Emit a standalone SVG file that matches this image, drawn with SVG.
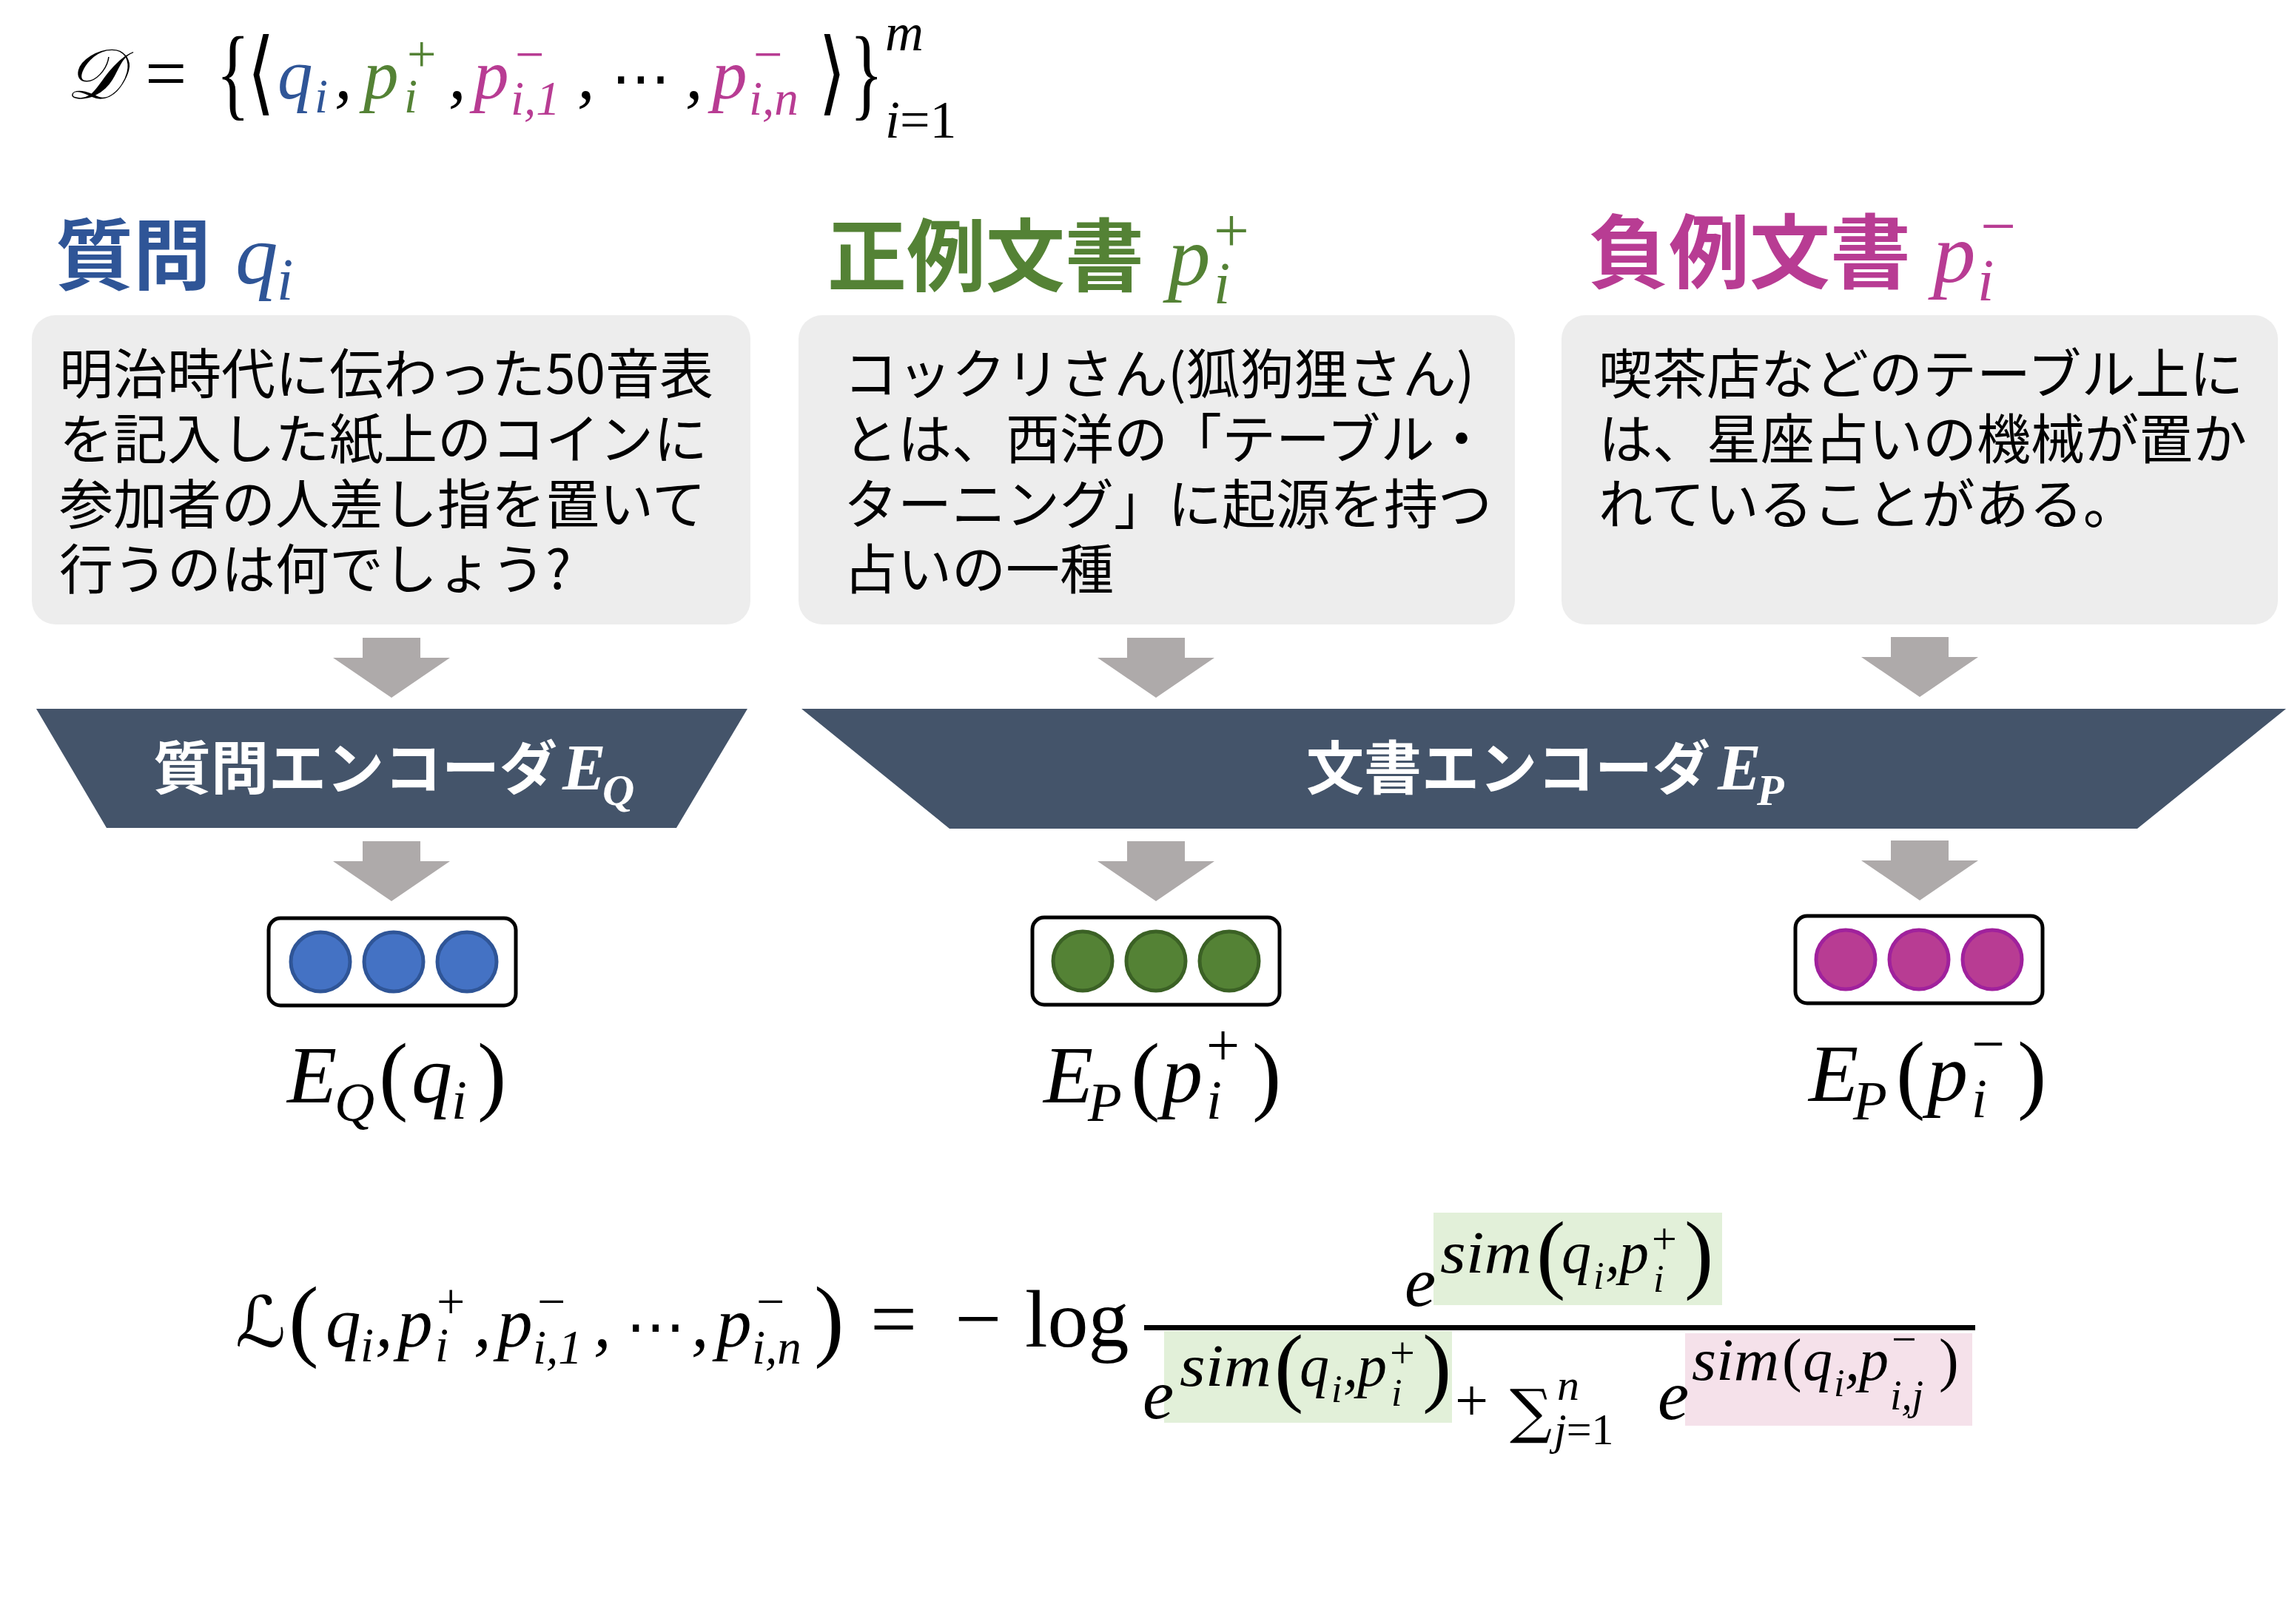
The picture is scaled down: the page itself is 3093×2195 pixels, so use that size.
<svg xmlns="http://www.w3.org/2000/svg" width="3093" height="2195" viewBox="0 0 3093 2195">
<style>
.m{font-family:"Liberation Serif","DejaVu Serif",serif;font-style:italic}
.u{font-family:"Liberation Serif","DejaVu Serif",serif;font-style:normal}
.sym{font-family:"DejaVu Serif","DejaVu Sans",serif}
.hd{font-family:"Noto Sans CJK JP",sans-serif;font-weight:700}
.body{font-family:"Noto Sans CJK JP",sans-serif;font-size:73px;fill:#000}
.box{fill:#EDEDED}
.enc{fill:#44546A}
.arrow{fill:#AEAAAA}
.vec{fill:#fff;stroke:#000;stroke-width:5}
.cb{fill:#4472C4;stroke:#2F5597;stroke-width:5}
.cg{fill:#548235;stroke:#3B6125;stroke-width:5}
.cm{fill:#B83C93;stroke:#A0219C;stroke-width:5}
.blue{fill:#2F5597}.green{fill:#548235}.mag{fill:#B83C93}
.wt{fill:#fff}
</style>
<defs>
<path id="arr" d="M-39,0 H39 V27 H79 L0,81 L-79,27 H-39 Z"/>
</defs>
<rect width="3093" height="2195" fill="#fff"/>

<g id="dataset-formula">
<text x="89" y="133" font-size="95" class="sym" font-style="italic">𝒟</text>
<text x="196" y="133" font-size="100" class="u">=</text>
<text transform="translate(292,145) scale(1,1.45)" font-size="95" class="u">{</text>
<text transform="translate(334,140) scale(1,1.3)" font-size="95" class="sym">⟨</text>
<text class="m" font-size="95"><tspan x="375" y="133" class="blue">q</tspan><tspan x="425" y="152" font-size="65" class="blue">i</tspan><tspan x="452" y="133">,</tspan><tspan x="491" y="133" class="green">p</tspan><tspan x="546" y="152" font-size="65" class="green">i</tspan><tspan x="550" y="97" font-size="70" class="u green">+</tspan><tspan x="606" y="133">,</tspan><tspan x="640" y="133" class="mag">p</tspan><tspan x="690" y="155" font-size="65" class="mag">i,1</tspan><tspan x="696" y="97" font-size="70" class="u mag">−</tspan><tspan x="780" y="133">,</tspan><tspan x="826" y="133" font-size="80" class="sym" font-style="normal">⋯</tspan><tspan x="926" y="133">,</tspan><tspan x="962" y="133" class="mag">p</tspan><tspan x="1012" y="155" font-size="65" class="mag">i,n</tspan><tspan x="1018" y="97" font-size="70" class="u mag">−</tspan></text>
<text transform="translate(1106,140) scale(1,1.3)" font-size="95" class="sym">⟩</text>
<text transform="translate(1148,145) scale(1,1.45)" font-size="95" class="u">}</text>
<text class="m" font-size="72"><tspan x="1196" y="68">m</tspan><tspan x="1196" y="186">i</tspan><tspan class="u">=1</tspan></text>
</g>

<g id="question-header">
<text x="75" y="383" font-size="105" class="hd blue">質問</text>
<text class="m blue" font-size="115"><tspan x="318" y="383">q</tspan><tspan x="374" y="405" font-size="80">i</tspan></text>
</g>
<g id="positive-header">
<text x="1118" y="385" font-size="107" class="hd green">正例文書</text>
<text class="m green" font-size="115"><tspan x="1578" y="385">p</tspan><tspan x="1640" y="410" font-size="80">i</tspan><tspan x="1640" y="340" font-size="85" class="u">+</tspan></text>
</g>
<g id="negative-header">
<text x="2146" y="381" font-size="109" class="hd mag">負例文書</text>
<text class="m mag" font-size="115"><tspan x="2612" y="381">p</tspan><tspan x="2672" y="406" font-size="80">i</tspan><tspan x="2676" y="334" font-size="85" class="u">−</tspan></text>
</g>

<g id="question-box">
<rect class="box" x="43" y="426" width="971" height="418" rx="32"/>
<text class="body"><tspan x="80" y="532">明治時代に伝わった50音表</tspan><tspan x="80" y="620">を記入した紙上のコインに</tspan><tspan x="80" y="708">参加者の人差し指を置いて</tspan><tspan x="80" y="796">行うのは何でしょう?</tspan></text>
</g>
<g id="positive-box">
<rect class="box" x="1079" y="426" width="968" height="418" rx="32"/>
<text class="body"><tspan x="1140" y="532">コックリさん(狐狗狸さん)</tspan><tspan x="1140" y="620">とは、西洋の「テーブル・</tspan><tspan x="1140" y="708">ターニング」に起源を持つ</tspan><tspan x="1140" y="796">占いの一種</tspan></text>
</g>
<g id="negative-box">
<rect class="box" x="2110" y="426" width="968" height="418" rx="32"/>
<text class="body"><tspan x="2160" y="532">喫茶店などのテーブル上に</tspan><tspan x="2160" y="620">は、星座占いの機械が置か</tspan><tspan x="2160" y="708">れていることがある。</tspan></text>
</g>

<g id="connectors">
<use href="#arr" class="arrow" transform="translate(529,862)"/>
<use href="#arr" class="arrow" transform="translate(1562,862)"/>
<use href="#arr" class="arrow" transform="translate(2594,861)"/>
<use href="#arr" class="arrow" transform="translate(529,1137)"/>
<use href="#arr" class="arrow" transform="translate(1562,1137)"/>
<use href="#arr" class="arrow" transform="translate(2594,1136)"/>
</g>

<g id="question-encoder">
<polygon class="enc" points="49,958 1010,958 914,1119 144,1119"/>
<text class="hd wt" font-size="78"><tspan x="207" y="1067">質問エンコーダ</tspan><tspan x="760" y="1067" font-size="88" class="m" font-weight="700">E</tspan><tspan x="814" y="1088" font-size="60" class="m" font-weight="700">Q</tspan></text>
</g>
<g id="document-encoder">
<polygon class="enc" points="1083,958 3089,958 2888,1120 1283,1120"/>
<text class="hd wt" font-size="78"><tspan x="1765" y="1067">文書エンコーダ</tspan><tspan x="2321" y="1067" font-size="88" class="m" font-weight="700">E</tspan><tspan x="2374" y="1088" font-size="60" class="m" font-weight="700">P</tspan></text>
</g>

<g id="query-vector">
<rect class="vec" x="363" y="1241" width="334" height="118" rx="16"/>
<circle class="cb" cx="433" cy="1300" r="40"/>
<circle class="cb" cx="532" cy="1300" r="40"/>
<circle class="cb" cx="631" cy="1300" r="40"/>
<text class="m" font-size="110"><tspan x="388" y="1490">E</tspan><tspan x="452" y="1515" font-size="75">Q</tspan><tspan x="512" y="1492" font-size="118" class="u">(</tspan><tspan x="556" y="1490">q</tspan><tspan x="610" y="1512" font-size="75">i</tspan><tspan x="645" y="1492" font-size="118" class="u">)</tspan></text>
</g>
<g id="positive-vector">
<rect class="vec" x="1395" y="1240" width="334" height="118" rx="16"/>
<circle class="cg" cx="1463" cy="1299" r="40"/>
<circle class="cg" cx="1562" cy="1299" r="40"/>
<circle class="cg" cx="1661" cy="1299" r="40"/>
<text class="m" font-size="110"><tspan x="1410" y="1490">E</tspan><tspan x="1470" y="1515" font-size="75">P</tspan><tspan x="1528" y="1492" font-size="118" class="u">(</tspan><tspan x="1570" y="1490">p</tspan><tspan x="1630" y="1512" font-size="75">i</tspan><tspan x="1630" y="1440" font-size="80" class="u">+</tspan><tspan x="1692" y="1492" font-size="118" class="u">)</tspan></text>
</g>
<g id="negative-vector">
<rect class="vec" x="2426" y="1238" width="334" height="118" rx="16"/>
<circle class="cm" cx="2494" cy="1297" r="40"/>
<circle class="cm" cx="2593" cy="1297" r="40"/>
<circle class="cm" cx="2692" cy="1297" r="40"/>
<text class="m" font-size="110"><tspan x="2444" y="1488">E</tspan><tspan x="2504" y="1513" font-size="75">P</tspan><tspan x="2562" y="1490" font-size="118" class="u">(</tspan><tspan x="2604" y="1488">p</tspan><tspan x="2664" y="1510" font-size="75">i</tspan><tspan x="2664" y="1438" font-size="80" class="u">−</tspan><tspan x="2726" y="1490" font-size="118" class="u">)</tspan></text>
</g>

<g id="loss-formula">
<text x="318" y="1820" font-size="95" class="sym" font-style="italic">ℒ</text>
<text class="m" font-size="95"><tspan x="390" y="1824" font-size="122" class="u">(</tspan><tspan x="440" y="1820">q</tspan><tspan x="487" y="1840" font-size="65">i</tspan><tspan x="507" y="1820">,</tspan><tspan x="537" y="1820">p</tspan><tspan x="588" y="1840" font-size="65">i</tspan><tspan x="590" y="1782" font-size="68" class="u">+</tspan><tspan x="640" y="1820">,</tspan><tspan x="672" y="1820">p</tspan><tspan x="720" y="1843" font-size="65">i,1</tspan><tspan x="726" y="1782" font-size="68" class="u">−</tspan><tspan x="802" y="1820">,</tspan><tspan x="846" y="1820" font-size="80" class="sym" font-style="normal">⋯</tspan><tspan x="934" y="1820">,</tspan><tspan x="968" y="1820">p</tspan><tspan x="1016" y="1843" font-size="65">i,n</tspan><tspan x="1022" y="1782" font-size="68" class="u">−</tspan><tspan x="1100" y="1824" font-size="122" class="u">)</tspan><tspan x="1176" y="1820" font-size="112" class="u">=</tspan><tspan x="1290" y="1820" font-size="112" class="u">−</tspan><tspan x="1385" y="1820" font-size="110" class="u">log</tspan></text>
<rect x="1546" y="1791" width="1123" height="7" fill="#000"/>
<rect x="1937" y="1639" width="390" height="125" fill="#E2F0D9"/>
<rect x="1573" y="1799" width="389" height="124" fill="#E2F0D9"/>
<rect x="2277" y="1802" width="388" height="125" fill="#F5E1EA"/>
<text class="m" font-size="80"><tspan x="1898" y="1765" font-size="95">e</tspan><tspan x="1946" y="1720" textLength="124" lengthAdjust="spacingAndGlyphs">sim</tspan><tspan x="2076" y="1733" font-size="118" class="u">(</tspan><tspan x="2110" y="1720">q</tspan><tspan x="2153" y="1742" font-size="52">i</tspan><tspan x="2169" y="1720">,</tspan><tspan x="2188" y="1720">p</tspan><tspan x="2234" y="1746" font-size="52">i</tspan><tspan x="2232" y="1694" font-size="60" class="u">+</tspan><tspan x="2276" y="1733" font-size="118" class="u">)</tspan></text>
<text class="m" font-size="80"><tspan x="1544" y="1917" font-size="95">e</tspan><tspan x="1594" y="1873" textLength="124" lengthAdjust="spacingAndGlyphs">sim</tspan><tspan x="1722" y="1886" font-size="118" class="u">(</tspan><tspan x="1756" y="1873">q</tspan><tspan x="1799" y="1895" font-size="52">i</tspan><tspan x="1815" y="1873">,</tspan><tspan x="1834" y="1873">p</tspan><tspan x="1880" y="1900" font-size="52">i</tspan><tspan x="1878" y="1848" font-size="60" class="u">+</tspan><tspan x="1922" y="1886" font-size="118" class="u">)</tspan><tspan x="1966" y="1920" class="u">+</tspan><tspan x="2040" y="1935" class="sym" font-style="normal">∑</tspan><tspan x="2104" y="1892" font-size="60">n</tspan><tspan x="2100" y="1952" font-size="60">j</tspan><tspan font-size="60" class="u">=1</tspan><tspan x="2240" y="1918" font-size="95">e</tspan><tspan x="2286" y="1865" textLength="118" lengthAdjust="spacingAndGlyphs">sim</tspan><tspan x="2408" y="1865" class="u">(</tspan><tspan x="2436" y="1865">q</tspan><tspan x="2478" y="1887" font-size="52">i</tspan><tspan x="2493" y="1865">,</tspan><tspan x="2512" y="1865">p</tspan><tspan x="2556" y="1830" font-size="60" class="u">−</tspan><tspan x="2554" y="1905" font-size="56">i,j</tspan><tspan x="2620" y="1865" class="u">)</tspan></text>
</g>
</svg>
